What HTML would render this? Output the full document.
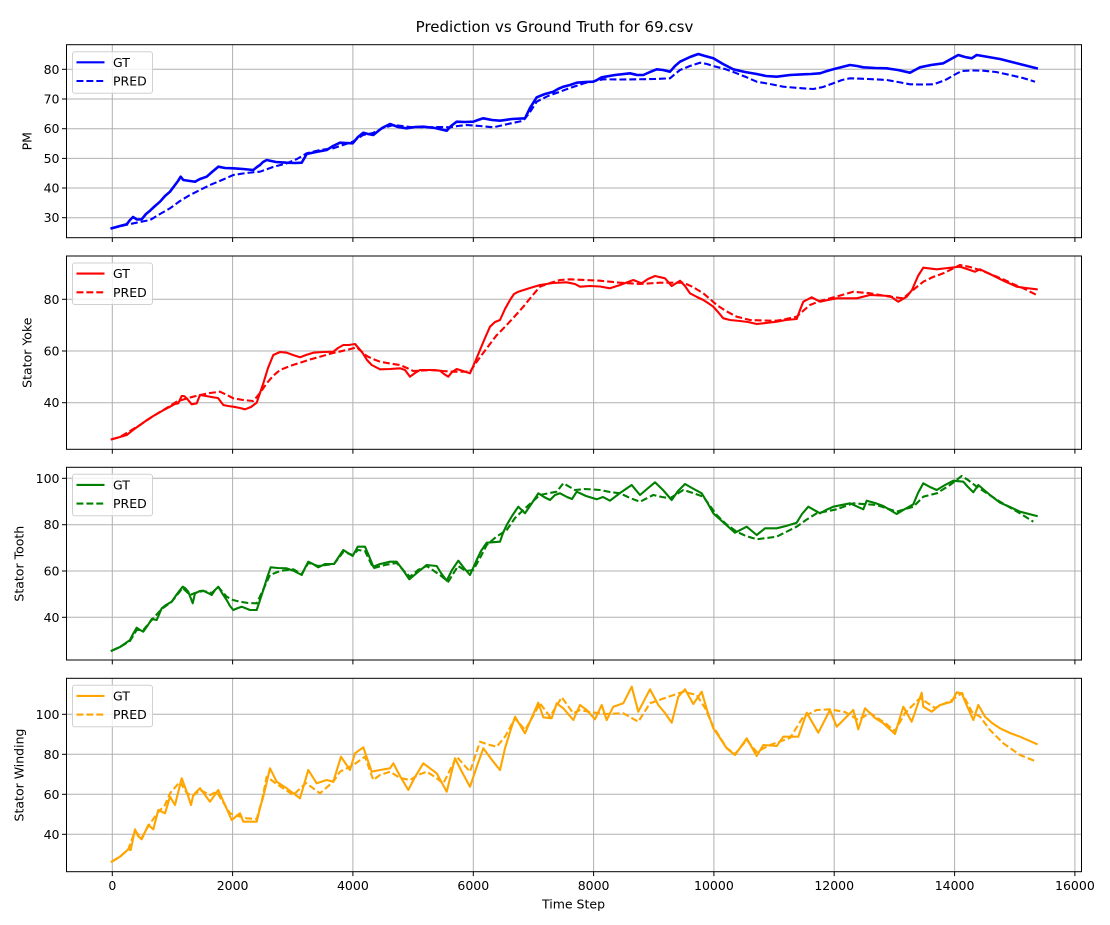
<!DOCTYPE html>
<html>
<head>
<meta charset="utf-8">
<style>
html,body{margin:0;padding:0;background:#fff;}
svg{display:block;}
text{font-family:"DejaVu Sans","Liberation Sans",sans-serif;fill:#000;}
.tk{font-size:12.5px;}
.grid line{stroke:#b0b0b0;stroke-width:1;}
.sp{fill:none;stroke:#000;stroke-width:1;}
.s{fill:none;stroke-width:2.1;stroke-linejoin:round;stroke-linecap:square;}
.d{fill:none;stroke-width:2.1;stroke-linejoin:round;stroke-dasharray:6.9 3;}
.lg{fill:#fff;fill-opacity:.8;stroke:#d0d0d0;stroke-width:1;}
</style>
</head>
<body>
<svg width="1110" height="925" viewBox="0 0 1110 925" xmlns="http://www.w3.org/2000/svg">
<rect width="1110" height="925" fill="#fff"/>
<text x="554.5" y="32" text-anchor="middle" style="font-size:15px">Prediction vs Ground Truth for 69.csv</text>

<!-- ============ Subplot 1: PM ============ -->
<g class="grid">
<line x1="112.3" y1="44.7" x2="112.3" y2="237.7"/><line x1="232.6" y1="44.7" x2="232.6" y2="237.7"/><line x1="352.9" y1="44.7" x2="352.9" y2="237.7"/><line x1="473.3" y1="44.7" x2="473.3" y2="237.7"/><line x1="593.6" y1="44.7" x2="593.6" y2="237.7"/><line x1="713.9" y1="44.7" x2="713.9" y2="237.7"/><line x1="834.2" y1="44.7" x2="834.2" y2="237.7"/><line x1="954.6" y1="44.7" x2="954.6" y2="237.7"/><line x1="1074.9" y1="44.7" x2="1074.9" y2="237.7"/>
<line x1="66.5" y1="217.7" x2="1081.5" y2="217.7"/><line x1="66.5" y1="188" x2="1081.5" y2="188"/><line x1="66.5" y1="158.4" x2="1081.5" y2="158.4"/><line x1="66.5" y1="128.7" x2="1081.5" y2="128.7"/><line x1="66.5" y1="99" x2="1081.5" y2="99"/><line x1="66.5" y1="69.3" x2="1081.5" y2="69.3"/>
</g>
<polyline class="d" stroke="#0000ff" points="111.7,228.3 130,224 150,220 160,214 170,208.3 180,201 190,195 200,190 210,185 222,180 233.3,175 246,173 260,171.7 273,167 286.7,163.3 297,159 306.7,153.3 320,150 333.3,148.3 343,145 352.7,141.7 363,135 373,133 383,128 393.3,125 410,127 426.7,127.3 440,127 450,127.3 458,126 466.7,125 480,126 493.3,127.3 508,124 523.3,120.7 530,112 536.7,101.7 548,96 560,91.7 570,88 585,83 603.3,79.3 620,79.5 636.7,79.3 655,79 670,78.3 675,74 680,70 690,66 700,62.7 707,64 713.3,66 725,69 736.7,73.3 746,77 756.7,81.7 770,84 783.3,86.7 798,88 813.3,89 823,87 833.3,83.3 842,80 850,78.3 868,79 886.7,80 898,82 910,84.3 922,84.5 933.3,84.3 940,82 946.7,79.3 954,75 961.7,71 972,70.5 983.3,70.7 996,72 1010,75 1023,78 1035,81.7"/>
<polyline class="s" stroke="#0000ff" style="stroke-width:2.6" points="111.7,228.3 120,226 126.7,224.3 130,220 133,217 137,219.5 141.7,219.3 146,214 150,210.7 155,206 160,201.7 165,196 170,191.7 175,185 178,181 180.7,176.7 183.3,180 190,181 195,181.7 200,179 206.7,176.7 212,172 218.3,166.7 225,168 233.3,168.3 243,169 253.3,170 257,167 260,165 263,162 266.7,160 276,162 286.7,162.7 295,163 301.7,162.7 306.7,154 316,152 326.7,150 333,146 340,142.7 346,143 352.7,143.3 358,137 363.3,132.7 368,134 373.3,135 382,128 390,124 398,127 406.7,128.3 415,127 423.3,126.7 435,128 446.7,130.7 451,126 456.7,121.7 465,122 473.3,121.7 478,120 483.3,118.3 492,120 500,120.7 512,119 525,118.3 530,108 536.7,97.3 545,94 553.3,91.7 558,89 563.3,86.7 570,85 576.7,82.7 585,82 593.3,81.7 597,80 601.7,77.3 615,75 630,73.3 637,75 643.3,75 650,72 656.7,69.3 663,70 670,71.7 675,66 680,61.7 690,57 698.3,54 705,56 713.3,58.3 723,64 733.3,69.3 745,72 756.7,74 766,76 776.7,76.7 790,75 803.3,74.3 811,74 820,73.3 827,71 833.3,69.3 842,67 850,65 857,66 863.3,67.3 875,68 886.7,68.3 898,70 910,72.7 915,70 920,67.3 931,65 943.3,63.3 951,59 958.3,55 965,57 971.7,58.3 976.7,55 1000,59 1036.7,68.3"/>
<rect class="sp" x="66.5" y="44.7" width="1015" height="193"/>
<g stroke="#000" stroke-width="1">
<line x1="112.3" y1="237.7" x2="112.3" y2="242"/><line x1="232.6" y1="237.7" x2="232.6" y2="242"/><line x1="352.9" y1="237.7" x2="352.9" y2="242"/><line x1="473.3" y1="237.7" x2="473.3" y2="242"/><line x1="593.6" y1="237.7" x2="593.6" y2="242"/><line x1="713.9" y1="237.7" x2="713.9" y2="242"/><line x1="834.2" y1="237.7" x2="834.2" y2="242"/><line x1="954.6" y1="237.7" x2="954.6" y2="242"/><line x1="1074.9" y1="237.7" x2="1074.9" y2="242"/>
<line x1="62" y1="217.7" x2="66.5" y2="217.7"/><line x1="62" y1="188" x2="66.5" y2="188"/><line x1="62" y1="158.4" x2="66.5" y2="158.4"/><line x1="62" y1="128.7" x2="66.5" y2="128.7"/><line x1="62" y1="99" x2="66.5" y2="99"/><line x1="62" y1="69.3" x2="66.5" y2="69.3"/>
</g>
<g class="tk" text-anchor="end">
<text x="59.5" y="222.2">30</text><text x="59.5" y="192.5">40</text><text x="59.5" y="162.9">50</text><text x="59.5" y="133.2">60</text><text x="59.5" y="103.5">70</text><text x="59.5" y="73.8">80</text>
</g>
<text class="tk" transform="translate(31.5,141.2) rotate(-90)" text-anchor="middle">PM</text>
<rect class="lg" x="72.5" y="51.7" width="80" height="41.5" rx="2.5"/>
<line x1="76.5" y1="62.3" x2="104.5" y2="62.3" stroke="#0000ff" stroke-width="2.1"/>
<line x1="76.5" y1="81" x2="104.5" y2="81" stroke="#0000ff" stroke-width="2.1" stroke-dasharray="6.9 3"/>
<text class="tk" x="113" y="66.8">GT</text><text class="tk" x="113" y="85.5">PRED</text>

<!-- ============ Subplot 2: Stator Yoke ============ -->
<g class="grid">
<line x1="112.3" y1="256" x2="112.3" y2="449.3"/><line x1="232.6" y1="256" x2="232.6" y2="449.3"/><line x1="352.9" y1="256" x2="352.9" y2="449.3"/><line x1="473.3" y1="256" x2="473.3" y2="449.3"/><line x1="593.6" y1="256" x2="593.6" y2="449.3"/><line x1="713.9" y1="256" x2="713.9" y2="449.3"/><line x1="834.2" y1="256" x2="834.2" y2="449.3"/><line x1="954.6" y1="256" x2="954.6" y2="449.3"/><line x1="1074.9" y1="256" x2="1074.9" y2="449.3"/>
<line x1="66.5" y1="402.7" x2="1081.5" y2="402.7"/><line x1="66.5" y1="351" x2="1081.5" y2="351"/><line x1="66.5" y1="299.3" x2="1081.5" y2="299.3"/>
</g>
<polyline class="d" stroke="#ff0000" points="111.7,439.3 120,437 130,431 140,425 153.3,416 165,409 176.7,401.7 188,398 200,395 210,393 220,391.7 227,395 233.3,398.3 243,400 253.3,401 260,393 266.7,383.3 273,376 280,370 290,366 300,362.7 310,359.5 320,356.7 333,353 346.7,350 356.7,347.3 362,352 366.7,356 373,359 380,361.7 390,363.5 400,365 407,368 413.3,371 423,370.5 433.3,370 443,371 453.3,371.7 470,371.7 478,360 486.7,348.3 496,336 506.7,325 515,316 523.3,306.7 532,296 540,286.7 550,283 560,280 570,279.3 585,280 600,280.7 620,282.7 640,284 660,282.7 683.3,282.7 693,287 703.3,293.3 710,299 716.7,305 726,311 736.7,316.7 750,320 763,320.5 776.7,320.7 786,319 796.7,316.7 803,311 810,305 820,301 830,298.3 842,295 853.3,291.7 870,293.3 890,296.7 903.3,298.3 913,290 923.3,281.7 933,277 943.3,273.3 952,269 960,265 970,267 980,270 990,274 1003.3,279.3 1013,284 1023.3,288.3 1036.7,295"/>
<polyline class="s" stroke="#ff0000" points="111.7,439.3 120,437 126.7,435 133,430 140,425 147,420 153.3,416 162,411 170,406.7 175,404 178.3,403.3 181.7,396 184,396 186.7,398.3 191.7,404.3 196.7,403.3 200,395 206,396 213.3,397.3 218,398 223.3,405 228,406 233.3,406.7 240,408 245,409.3 251,407 256.7,402.7 260,393 263.3,383.3 268,368 273.3,355 280,352 286.7,352.7 293,355 300,357.3 306,355 313.3,352.7 323,352 333.3,351.7 338,348 343.3,345 349,345 355,344 362,352 367,360 371.7,365 380,369.3 390,369 400,368.3 405,370 410,376.7 415,373 420,370 430,370 440,370.7 444,374 448.3,376.7 452,372 456.7,369 463,371 470,373.3 475,362 480,350 485,338 490,326.7 495,322 500,320 505,309 510,300 514,294 518.3,291.7 530,288 540,285 553,283 566.7,282.3 575,284 580,286.7 590,286 600,286.5 610,288.3 620,285 633.3,280 641.7,283.3 648,279 655,276 665,278.3 671.7,286 680,280.7 685,286 690,293.3 697,297 703.3,300 708,303 713.3,306.7 718,312 723.3,318.3 730,320 740,321 748,322 756.7,324 766,323 776.7,321.7 786,320 796.7,319 800,310 803.3,301.7 811.7,297.3 820,301.7 828,300 836.7,298.3 856.7,298.3 870,295 880,295.5 890,296 898.3,301.7 906.7,296.7 912,290 918,276 923.3,267.7 936.7,269.3 948,268 960,266.7 967,269 975,271.7 980,269.3 990,274 1003.3,280.7 1016.7,286.7 1026,288 1036.7,289.3"/>
<rect class="sp" x="66.5" y="256" width="1015" height="193.3"/>
<g stroke="#000" stroke-width="1">
<line x1="112.3" y1="449.3" x2="112.3" y2="453.7"/><line x1="232.6" y1="449.3" x2="232.6" y2="453.7"/><line x1="352.9" y1="449.3" x2="352.9" y2="453.7"/><line x1="473.3" y1="449.3" x2="473.3" y2="453.7"/><line x1="593.6" y1="449.3" x2="593.6" y2="453.7"/><line x1="713.9" y1="449.3" x2="713.9" y2="453.7"/><line x1="834.2" y1="449.3" x2="834.2" y2="453.7"/><line x1="954.6" y1="449.3" x2="954.6" y2="453.7"/><line x1="1074.9" y1="449.3" x2="1074.9" y2="453.7"/>
<line x1="62" y1="402.7" x2="66.5" y2="402.7"/><line x1="62" y1="351" x2="66.5" y2="351"/><line x1="62" y1="299.3" x2="66.5" y2="299.3"/>
</g>
<g class="tk" text-anchor="end">
<text x="59.5" y="407.2">40</text><text x="59.5" y="355.5">60</text><text x="59.5" y="303.8">80</text>
</g>
<text class="tk" transform="translate(31.5,352.7) rotate(-90)" text-anchor="middle">Stator Yoke</text>
<rect class="lg" x="72.5" y="263" width="80" height="41.5" rx="2.5"/>
<line x1="76.5" y1="273.6" x2="104.5" y2="273.6" stroke="#ff0000" stroke-width="2.1"/>
<line x1="76.5" y1="292.3" x2="104.5" y2="292.3" stroke="#ff0000" stroke-width="2.1" stroke-dasharray="6.9 3"/>
<text class="tk" x="113" y="278.1">GT</text><text class="tk" x="113" y="296.8">PRED</text>

<!-- ============ Subplot 3: Stator Tooth ============ -->
<g class="grid">
<line x1="112.3" y1="467.3" x2="112.3" y2="660"/><line x1="232.6" y1="467.3" x2="232.6" y2="660"/><line x1="352.9" y1="467.3" x2="352.9" y2="660"/><line x1="473.3" y1="467.3" x2="473.3" y2="660"/><line x1="593.6" y1="467.3" x2="593.6" y2="660"/><line x1="713.9" y1="467.3" x2="713.9" y2="660"/><line x1="834.2" y1="467.3" x2="834.2" y2="660"/><line x1="954.6" y1="467.3" x2="954.6" y2="660"/><line x1="1074.9" y1="467.3" x2="1074.9" y2="660"/>
<line x1="66.5" y1="617.3" x2="1081.5" y2="617.3"/><line x1="66.5" y1="571" x2="1081.5" y2="571"/><line x1="66.5" y1="524.7" x2="1081.5" y2="524.7"/><line x1="66.5" y1="478.3" x2="1081.5" y2="478.3"/>
</g>
<polyline class="d" stroke="#008000" points="111.7,650.7 120,647 130,641 136.7,630 143.3,630 151.7,620 161.7,609 171.7,601.7 182.7,588 190,595 195,593 203.3,591 211.7,593 218.3,587 226.7,596.7 233,600 240,601.7 248,603 256.7,603.3 263,590 270,575 280,571 293.3,569.3 301.7,574 308.3,563 318.3,566 334,564 343.3,552 353,555 358,550 365,551 373.3,568.3 385,565 396.7,563 404,571 410,576.7 418,570 426.7,566 440,575 448.3,581.7 458,566 466,571 473.3,570 480,558 486.7,545 496,537 506.7,530 515,518 523.3,510 532,502 540,495 550,493 556.7,491.7 563.3,483.3 575,490 585,489 600,490 610,492 620,493.3 630,498 640,501.7 653.3,495 662,497 670,498.3 683.3,490 693,493 703.3,496.7 716.7,515 726,524 736.7,531.7 746,536 756.7,539.3 776.7,536.7 786,532 796.7,526.7 806,520 816.7,513.3 836.7,509.3 853.3,503.3 876.7,505 896.7,511.7 913.3,506.7 923.3,496.7 936.7,493.3 950,485 961.7,476 968,480 976.7,486.7 988,494 1000,501.7 1020,513.3 1033.3,521.7"/>
<polyline class="s" stroke="#008000" points="111.7,650.7 120,647 130,640 133,634 136.7,627.7 140,630 143.3,631.7 148,625 151.7,619 156.7,620 161.7,608.3 166,605 171.7,601.7 177,594 182.7,586.7 185,588 188.3,591.7 192.7,603.3 195,593.3 200,591 203.3,590.7 208,593 211.7,595 215,590 218.3,586.7 222,593 226.7,600 230,606 233.3,610 238,608 241.7,606.7 250,610 256.7,610 260,600 263.3,590 267,578 270.7,567.3 278,568 286.7,568.3 294,571 301.7,575 305,568 308.3,561.7 313,564 318.3,567.3 325,564 334,564 338,558 343.3,550 348,553 352.7,556 357.7,546.7 365,546.7 369,556 373.3,566.7 380,564 390,561.7 396.7,561.7 403,570 409.3,579.3 418,572 426.7,565 436.7,566 441,573 446.7,580.7 452,570 458.3,560.7 464,568 470,575 476.7,560 481,551 486.7,542.7 500,541.7 503,533 506.7,525 512,516 518.3,506.7 525,513.3 532,503 538.3,493.3 544,497 550,500 555,495 560,493.3 567,497 572,499 576.7,491.7 586,496 596.7,499.3 603,497 610,500.7 620,493 631.7,485 640,495 647,489 655,482.3 663,490 671.7,500 678,491 685,484 692,488 701.7,493.3 707,502 713.3,513.3 724,523 735,532.7 746.7,526.7 756.7,535 765,528.3 776.7,528.3 786,526 796.7,522.7 802,514 808.3,506.7 820,513.3 826,510 833.3,506.7 850,503.3 863.3,509.3 866.7,500.7 875,503 883.3,506 890,510 896.7,514 905,509 913.3,504.3 918,493 923.3,483.3 930,487 936.7,490 945,485 953.3,480.7 963.3,481.7 968,487 973.3,492.3 978.3,485 990,495 1000,502.7 1010,507 1020,511.7 1036.7,516"/>
<rect class="sp" x="66.5" y="467.3" width="1015" height="192.7"/>
<g stroke="#000" stroke-width="1">
<line x1="112.3" y1="660" x2="112.3" y2="664.4"/><line x1="232.6" y1="660" x2="232.6" y2="664.4"/><line x1="352.9" y1="660" x2="352.9" y2="664.4"/><line x1="473.3" y1="660" x2="473.3" y2="664.4"/><line x1="593.6" y1="660" x2="593.6" y2="664.4"/><line x1="713.9" y1="660" x2="713.9" y2="664.4"/><line x1="834.2" y1="660" x2="834.2" y2="664.4"/><line x1="954.6" y1="660" x2="954.6" y2="664.4"/><line x1="1074.9" y1="660" x2="1074.9" y2="664.4"/>
<line x1="62" y1="617.3" x2="66.5" y2="617.3"/><line x1="62" y1="571" x2="66.5" y2="571"/><line x1="62" y1="524.7" x2="66.5" y2="524.7"/><line x1="62" y1="478.3" x2="66.5" y2="478.3"/>
</g>
<g class="tk" text-anchor="end">
<text x="59.5" y="621.8">40</text><text x="59.5" y="575.5">60</text><text x="59.5" y="529.2">80</text><text x="59.5" y="482.8">100</text>
</g>
<text class="tk" transform="translate(23.5,563.7) rotate(-90)" text-anchor="middle">Stator Tooth</text>
<rect class="lg" x="72.5" y="474.3" width="80" height="41.5" rx="2.5"/>
<line x1="76.5" y1="484.9" x2="104.5" y2="484.9" stroke="#008000" stroke-width="2.1"/>
<line x1="76.5" y1="503.6" x2="104.5" y2="503.6" stroke="#008000" stroke-width="2.1" stroke-dasharray="6.9 3"/>
<text class="tk" x="113" y="489.4">GT</text><text class="tk" x="113" y="508.1">PRED</text>

<!-- ============ Subplot 4: Stator Winding ============ -->
<g class="grid">
<line x1="112.3" y1="678.3" x2="112.3" y2="871.7"/><line x1="232.6" y1="678.3" x2="232.6" y2="871.7"/><line x1="352.9" y1="678.3" x2="352.9" y2="871.7"/><line x1="473.3" y1="678.3" x2="473.3" y2="871.7"/><line x1="593.6" y1="678.3" x2="593.6" y2="871.7"/><line x1="713.9" y1="678.3" x2="713.9" y2="871.7"/><line x1="834.2" y1="678.3" x2="834.2" y2="871.7"/><line x1="954.6" y1="678.3" x2="954.6" y2="871.7"/><line x1="1074.9" y1="678.3" x2="1074.9" y2="871.7"/>
<line x1="66.5" y1="834.3" x2="1081.5" y2="834.3"/><line x1="66.5" y1="794.3" x2="1081.5" y2="794.3"/><line x1="66.5" y1="754.3" x2="1081.5" y2="754.3"/><line x1="66.5" y1="714.3" x2="1081.5" y2="714.3"/>
</g>
<polyline class="d" stroke="#ffa500" points="111.7,861.7 120,856.7 128.3,849.3 135,831 141.7,838 148.3,826 158.3,812 165,805 170,793.3 180,781.7 186.7,793 193,796 200,790 210,795 216.7,791.7 223,802 230,813.3 238,816 246.7,818.3 256.7,819 262,800 266.7,776.7 276.7,784 293.3,795 306,783 320,793.3 333.3,781.7 340,771.7 353.3,765 365,756.7 373.3,780 380,775 390,771.7 400,778 410,780 418,775 426.7,771.7 435,777 443.3,783.3 456.7,756.7 470,771.7 480,741.7 490,745 496.7,746.7 505,736.7 515,718.3 525,730 532,718 540,703.3 550,716.7 561.7,697.3 573.3,713.3 580,710 590,712 605,714 623.3,713.3 638.3,721.7 650,703.3 665,698 683.3,691.7 696.7,695 705,708 713.3,726.7 726.7,748 735,754 746.7,740 756.7,752 770,745 790,738 803.3,716.7 816.7,710 830,709.3 845,712 858.3,720 870,713 885,723 895,731 905,713 920,698 935,708 952,700 962,693 972,712 980,716.7 990,730 1003.3,743.3 1020,755 1035,761"/>
<polyline class="s" stroke="#ffa500" points="111.7,861.7 120,856.7 128.3,849.3 130.7,850 135,829.3 138,836 141.7,839.3 148.3,825 153.3,829.3 158.3,810 165,813.3 170,796.7 175,805 181.7,778.3 186.7,791.7 191,805 193.3,795 200,788.3 205,795 210,801.7 218.3,790 225,805 231.7,820 240,813.3 243.3,821.7 256.7,821.7 260,808 263.3,796.7 270,768.3 276.7,781.7 286.7,788.3 300,798.3 308.3,770 316.7,783.3 326.7,780 333.3,781.7 341,756.7 350,770 355,753.3 363.3,747.3 371.7,771.7 380,770 390,768.3 393.3,763.3 400,776 408.3,790 415,777 423.3,763.3 436.7,773.3 446.7,791.7 455,758.3 462,772 470,786.7 477,766 483.3,748.3 493.3,761.7 500,770 505,748.3 510,732 515,716.7 525,733.3 532,717 538.3,702.7 543.3,717.3 551.7,718.3 556.7,703.3 563.3,708.3 573.3,720 580,705 586.7,710 595,719.3 601.7,705 606.7,720 613.3,706.7 623.3,703.3 631.7,686.7 638.3,711.7 650,689.3 658.3,705 665,713 671.7,722.7 678.3,696.7 685,689.3 693.3,704 701.7,691.7 707,710 713.3,728.3 720,738 726.7,748.3 735,755 740,748 746.7,738.3 756.7,756 763.3,745 776.7,746 783.3,736.7 798.3,736.7 806.7,712.7 818.3,732.7 830,710 836.7,726.7 853.3,710 858.3,729.3 865,708.3 875,718 883.3,723.3 895,734 903.3,706.7 911.7,721.7 921.7,692.7 923.3,706.7 931.7,711.7 940,705 951.7,701.7 956.7,692.3 961.7,693.3 967,706 973.3,720 978.3,705 985,716.7 992,723 1000,728.3 1010,733 1020,736.7 1036.7,744"/>
<rect class="sp" x="66.5" y="678.3" width="1015" height="193.4"/>
<g stroke="#000" stroke-width="1">
<line x1="112.3" y1="871.7" x2="112.3" y2="876.1"/><line x1="232.6" y1="871.7" x2="232.6" y2="876.1"/><line x1="352.9" y1="871.7" x2="352.9" y2="876.1"/><line x1="473.3" y1="871.7" x2="473.3" y2="876.1"/><line x1="593.6" y1="871.7" x2="593.6" y2="876.1"/><line x1="713.9" y1="871.7" x2="713.9" y2="876.1"/><line x1="834.2" y1="871.7" x2="834.2" y2="876.1"/><line x1="954.6" y1="871.7" x2="954.6" y2="876.1"/><line x1="1074.9" y1="871.7" x2="1074.9" y2="876.1"/>
<line x1="62" y1="834.3" x2="66.5" y2="834.3"/><line x1="62" y1="794.3" x2="66.5" y2="794.3"/><line x1="62" y1="754.3" x2="66.5" y2="754.3"/><line x1="62" y1="714.3" x2="66.5" y2="714.3"/>
</g>
<g class="tk" text-anchor="end">
<text x="59.5" y="838.8">40</text><text x="59.5" y="798.8">60</text><text x="59.5" y="758.8">80</text><text x="59.5" y="718.8">100</text>
</g>
<g class="tk" text-anchor="middle">
<text x="112.3" y="890">0</text><text x="232.6" y="890">2000</text><text x="352.9" y="890">4000</text><text x="473.3" y="890">6000</text><text x="593.6" y="890">8000</text><text x="713.9" y="890">10000</text><text x="834.2" y="890">12000</text><text x="954.6" y="890">14000</text><text x="1074.9" y="890">16000</text>
</g>
<text class="tk" x="573.5" y="908.3" text-anchor="middle">Time Step</text>
<text class="tk" transform="translate(23.5,775) rotate(-90)" text-anchor="middle">Stator Winding</text>
<rect class="lg" x="72.5" y="685.3" width="80" height="41.5" rx="2.5"/>
<line x1="76.5" y1="695.9" x2="104.5" y2="695.9" stroke="#ffa500" stroke-width="2.1"/>
<line x1="76.5" y1="714.6" x2="104.5" y2="714.6" stroke="#ffa500" stroke-width="2.1" stroke-dasharray="6.9 3"/>
<text class="tk" x="113" y="700.4">GT</text><text class="tk" x="113" y="719.1">PRED</text>
</svg>
</body>
</html>
